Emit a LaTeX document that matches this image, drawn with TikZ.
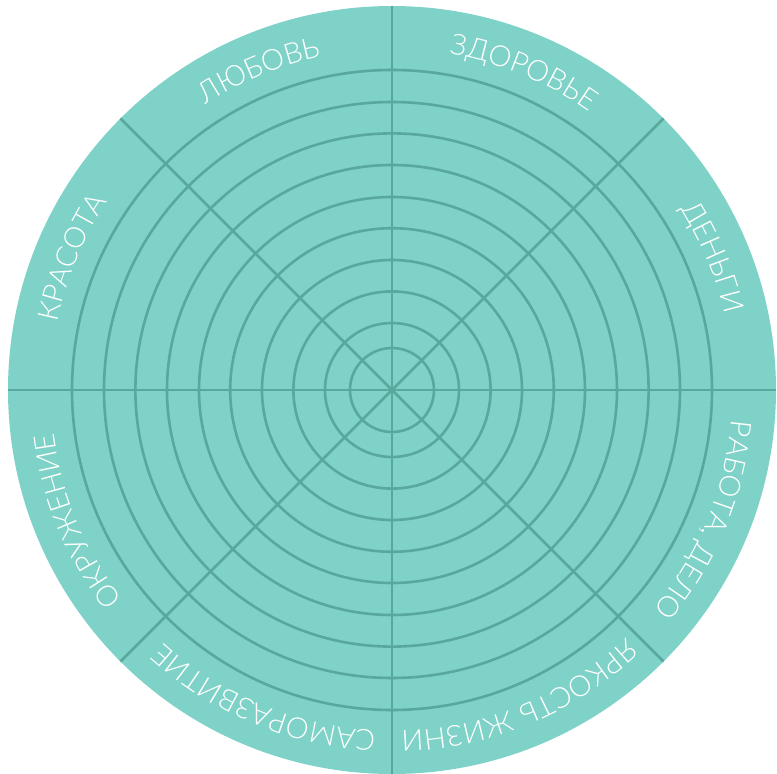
\documentclass[tikz,border=0pt]{standalone}
\usepackage{fontspec}
\setmainfont{Lato}[UprightFont=* Light]
\usetikzlibrary{decorations.text}
\definecolor{wheelfill}{RGB}{127,210,199}
\definecolor{wheelline}{RGB}{88,168,157}
\tikzset{
  ringline/.style={draw=wheelline, line width=2.6pt},
  spoke/.style={draw=wheelline, line width=2.6pt},
  arclabel/.style={decorate, decoration={text along path, text align=center,
     text={|\fontsize{29}{29}\selectfont\color{white}|#1}}}
}
\begin{document}
\begin{tikzpicture}
\useasboundingbox (-392pt,-384pt) rectangle (385pt,390pt);
\fill[wheelfill] (0,0) circle[radius=384pt];
\coordinate (c) at (0,0);
\foreach \r in {42,67,98.6,130,161.8,193,225,256.6,288,320}
  \draw[ringline] (c) circle[radius=\r pt];
\foreach \a in {0,45,90,135}
  \draw[spoke] (\a:384pt) -- (\a+180:384pt);
% labels
\path[arclabel={ЗДОРОВЬЕ}] (90:341pt) arc[start angle=90, end angle=45, radius=341pt];
\path[arclabel={ДЕНЬГИ}] (45:341pt) arc[start angle=45, end angle=0, radius=341pt];
\path[arclabel={РАБОТА, ДЕЛО}] (0:341pt) arc[start angle=0, end angle=-45, radius=341pt];
\path[arclabel={ЯРКОСТЬ ЖИЗНИ}] (-45:341pt) arc[start angle=-45, end angle=-90, radius=341pt];
\path[arclabel={САМОРАЗВИТИЕ}] (-90:341pt) arc[start angle=-90, end angle=-135, radius=341pt];
\path[arclabel={ОКРУЖЕНИЕ}] (-135:341pt) arc[start angle=-135, end angle=-180, radius=341pt];
\path[arclabel={КРАСОТА}] (180:341pt) arc[start angle=180, end angle=135, radius=341pt];
\path[arclabel={ЛЮБОВЬ}] (135:341pt) arc[start angle=135, end angle=90, radius=341pt];
\end{tikzpicture}
\end{document}
